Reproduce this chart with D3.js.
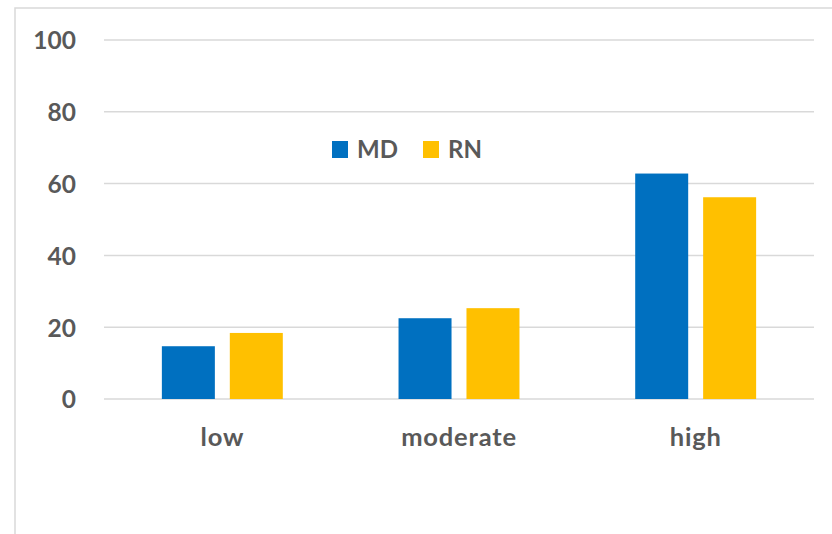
<!DOCTYPE html>
<html>
<head>
<meta charset="utf-8">
<script src="https://cdn.jsdelivr.net/npm/d3@7"></script>
<style>
  html, body { margin: 0; padding: 0; background: #fff; }
  svg text { font-family: Lato, "Open Sans", sans-serif; font-weight: bold; fill: #595959; }
</style>
</head>
<body>
<div id="chart"></div>
<script>
// chart data
var categories = ["low", "moderate", "high"];
var seriesNames = ["MD", "RN"];
var mdValues = [14.7, 22.5, 62.8];
var rnValues = [18.4, 25.3, 56.2];
var yTicks = [0, 20, 40, 60, 80, 100];
var colors = { MD: "#0070c0", RN: "#ffc000" };

var width = 832, height = 534;
var margin = { left: 104, right: 18, top: 40, bottom: 135 };

var svg = d3.select("#chart").append("svg")
  .attr("width", width)
  .attr("height", height);

/** chart area border (only top and left edges are visible in the crop) */
svg.append("rect")
  .attr("x", 15)
  .attr("y", 8)
  .attr("width", width + 20)
  .attr("height", height + 20)
  .attr("fill", "none")
  .attr("stroke", "#d9d9d9")
  .attr("stroke-width", 1.5);

var y = d3.scaleLinear()
  .domain([0, 100])
  .range([399, 40]);

var x0 = d3.scaleBand()
  .domain(categories)
  .range([margin.left, width - margin.right])
  .paddingInner(0.489)
  .paddingOuter(0.2445);

var x1 = d3.scaleBand()
  .domain(seriesNames)
  .range([0, x0.bandwidth()])
  .paddingInner(0.22);

/** gridlines */
svg.append("g")
  .selectAll("line")
  .data(yTicks)
  .join("line")
  .attr("x1", margin.left)
  .attr("x2", width - margin.right)
  .attr("y1", function(d) { return y(d); })
  .attr("y2", function(d) { return y(d); })
  .attr("stroke", "#d9d9d9")
  .attr("stroke-width", 1.5);

/** y axis labels */
var yAxis = d3.axisLeft(y).tickValues(yTicks).tickSize(0).tickPadding(0);
svg.append("g")
  .attr("transform", "translate(76,0)")
  .call(yAxis)
  .call(function(g) { g.select(".domain").remove(); })
  .selectAll("text")
  .attr("font-family", null)
  .style("font-size", "24.5px")
  .attr("dy", "0.36em");

/** bars */
var rows = categories.map(function(c, i) {
  return { category: c, values: [
    { key: "MD", value: mdValues[i] },
    { key: "RN", value: rnValues[i] }
  ] };
});

svg.append("g")
  .selectAll("g")
  .data(rows)
  .join("g")
  .attr("transform", function(d) { return "translate(" + x0(d.category) + ",0)"; })
  .selectAll("rect")
  .data(function(d) { return d.values; })
  .join("rect")
  .attr("x", function(d) { return x1(d.key); })
  .attr("y", function(d) { return y(d.value); })
  .attr("width", x1.bandwidth())
  .attr("height", function(d) { return y(0) - y(d.value); })
  .attr("fill", function(d) { return colors[d.key]; });

/** x axis labels */
var xAxis = d3.axisBottom(x0).tickSize(0).tickPadding(0);
svg.append("g")
  .attr("transform", "translate(0,446)")
  .call(xAxis)
  .call(function(g) { g.select(".domain").remove(); })
  .selectAll("text")
  .attr("font-family", null)
  .attr("y", 0)
  .attr("dy", 0)
  .style("font-size", "25.5px")
  .style("letter-spacing", "0.8px");

/** legend */
var legend = svg.append("g")
  .attr("transform", "translate(332,141)");
var items = legend.selectAll("g")
  .data(seriesNames)
  .join("g")
  .attr("transform", function(d, i) { return "translate(" + (i * 91) + ",0)"; });
items.append("rect")
  .attr("width", 16)
  .attr("height", 17)
  .attr("fill", function(d) { return colors[d]; });
items.append("text")
  .attr("x", 25)
  .attr("y", 17)
  .style("font-size", "24px")
  .text(function(d) { return d; });
</script>
</body>
</html>
